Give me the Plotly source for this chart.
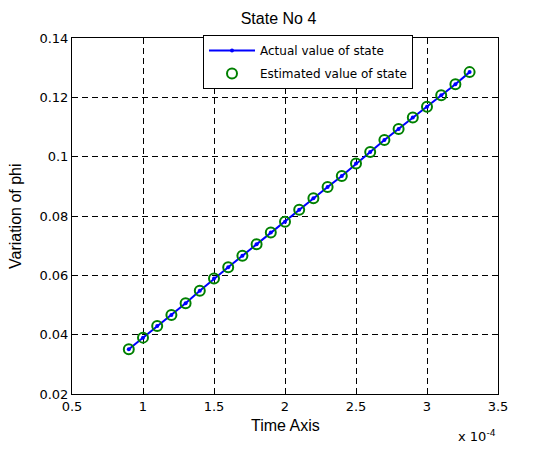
import plotly.graph_objects as go

# Time samples in units of 1e-4 s (axis carries the "x 10^-4" multiplier)
time_e4 = [0.9, 1.0, 1.1, 1.2, 1.3, 1.4, 1.5, 1.6, 1.7, 1.8, 1.9, 2.0, 2.1,
           2.2, 2.3, 2.4, 2.5, 2.6, 2.7, 2.8, 2.9, 3.0, 3.1, 3.2, 3.3]

# State 4 (phi): true trajectory and the estimator output
phi_actual = [0.0351, 0.0390, 0.0429, 0.0466, 0.0506, 0.0548, 0.0589, 0.0627,
              0.0666, 0.0705, 0.0744, 0.0781, 0.0821, 0.0860, 0.0898, 0.0935,
              0.0977, 0.1016, 0.1056, 0.1093, 0.1132, 0.1168, 0.1207, 0.1244,
              0.1285]
phi_estimated = list(phi_actual)

x_ticks = [0.5, 1, 1.5, 2, 2.5, 3, 3.5]
x_ticktext = ["0.5", "1", "1.5", "2", "2.5", "3", "3.5"]
y_ticks = [0.02, 0.04, 0.06, 0.08, 0.1, 0.12, 0.14]
y_ticktext = ["0.02", "0.04", "0.06", "0.08", "0.1", "0.12", "0.14"]

W, H = 557, 451
L, R, T, B = 72, 59, 38, 57
PW, PH = W - L - R, H - T - B

tick_font = dict(family="DejaVu Sans", size=13, color="black")
label_font = dict(family="Liberation Sans, Arial", size=16, color="black")

fig = go.Figure()
fig.add_trace(go.Scatter(
    x=time_e4, y=phi_actual, mode="lines+markers",
    name="Actual value of state", legendgroup="actual",
    line=dict(color="rgb(0,0,255)", width=2),
    marker=dict(color="rgb(0,0,255)", size=4),
))
fig.add_trace(go.Scatter(
    x=time_e4, y=phi_estimated, mode="markers",
    name="Estimated value of state", legendgroup="estimated",
    marker=dict(symbol="circle-open", color="rgb(0,128,0)", size=10,
                line=dict(width=2, color="rgb(0,128,0)")),
))

axis_common = dict(
    showline=True, linecolor="black", linewidth=1, mirror="allticks",
    ticks="inside", ticklen=5, tickcolor="black", tickwidth=1,
    showgrid=True, gridcolor="black", gridwidth=1, griddash="6px,4px",
    zeroline=False, tickfont=tick_font,
)

fig.update_layout(
    width=W, height=H,
    margin=dict(l=L, r=R, t=T, b=B),
    paper_bgcolor="white", plot_bgcolor="white",
    xaxis=dict(range=[0.5, 3.5], tickvals=x_ticks, ticktext=x_ticktext,
               **axis_common),
    yaxis=dict(range=[0.02, 0.14], tickvals=y_ticks, ticktext=y_ticktext,
               **axis_common),
    showlegend=True,
    legend=dict(x=(203 - L) / PW, y=1 + 3 / PH, xanchor="left", yanchor="top",
                bgcolor="white", bordercolor="black", borderwidth=1,
                font=dict(family="DejaVu Sans", size=12, color="black"),
                itemwidth=46, tracegroupgap=4),
    title=dict(text="State No 4", x=0.5, xanchor="center",
               y=1 - 18 / H, yref="container", yanchor="middle",
               font=label_font),
    annotations=[
        dict(text="Time Axis", x=0.5, xref="paper", y=-31 / PH,
             yref="paper", yanchor="middle", showarrow=False, font=label_font),
        dict(text="Variation of phi", x=-57 / PW, xref="paper",
             y=0.5, yref="paper", textangle=-90, showarrow=False,
             xanchor="center", yanchor="middle", font=label_font),
        dict(text="x 10<sup>-4</sup>", x=1.0, xref="paper", xanchor="right",
             y=-42 / PH, yref="paper", yanchor="middle",
             showarrow=False, font=dict(family="DejaVu Sans", size=13,
                                        color="black")),
        dict(text="State No 5", x=0.5, xref="paper", xanchor="center",
             y=-(PH + 52) / PH, yref="paper",
             yanchor="top", showarrow=False, font=label_font),
    ],
)

fig.write_html("out.html")
